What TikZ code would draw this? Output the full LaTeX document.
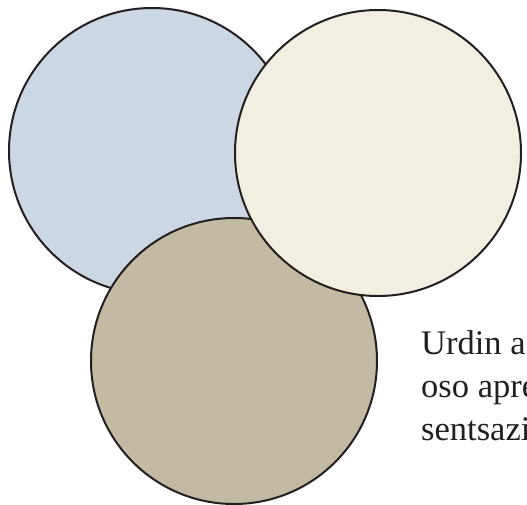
\documentclass[tikz,border=0pt]{standalone}
\usepackage{fontspec}
\setmainfont{Liberation Serif}
\definecolor{cblue}{HTML}{CBD7E3}
\definecolor{ccream}{HTML}{F2EFE2}
\definecolor{cbeige}{HTML}{C3BAA3}
\definecolor{cline}{HTML}{231F20}
\tikzset{disc/.style={circle, draw=cline, line width=2pt, minimum size=286pt, inner sep=0pt},
  caption/.style={anchor=base west, inner sep=0pt, font=\fontsize{34.5}{40}\selectfont, text=cline}}
\begin{document}
\begin{tikzpicture}[x=1pt,y=-1pt]
\useasboundingbox (0,0) rectangle (527,504);
\clip (0,0) rectangle (527,504);
\node[disc, fill=cblue] (blue) at (152,151) {};
\node[disc, fill=cbeige] (beige) at (234,361) {};
\node[disc, fill=ccream] (cream) at (378,153) {};
\node[caption] (l1) at (421,354) {Urdin a};
\node[caption] (l2) at (421,397) {oso apre};
\node[caption] (l3) at (421,440) {sentsazi};
\end{tikzpicture}
\end{document}
